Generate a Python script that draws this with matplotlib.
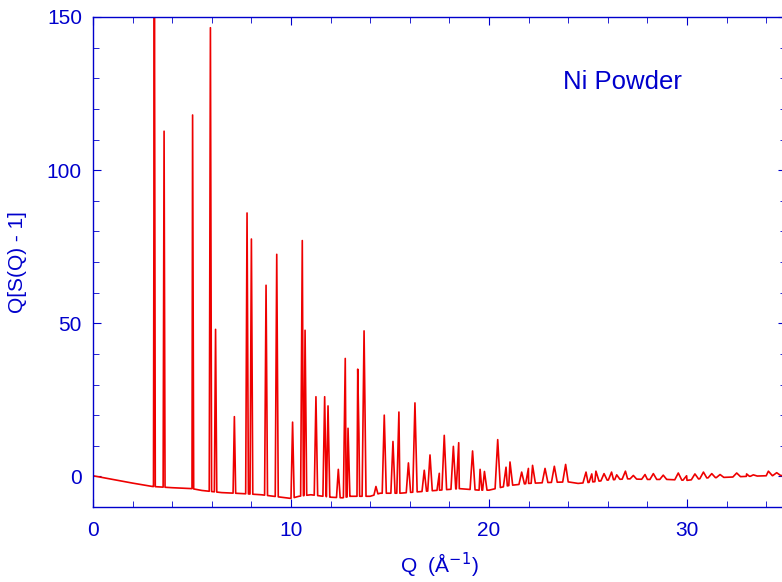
import numpy as np
import matplotlib
matplotlib.use("Agg")
import matplotlib.pyplot as plt

# Bragg peak positions (Q, 1/A) and heights
peak_q = [3.10, 3.59, 5.03, 5.93, 6.19, 7.14, 7.78, 8.00, 8.74, 9.28,
          10.08, 10.57, 10.71, 11.26, 11.70, 11.87, 12.39, 12.74, 12.88,
          13.37, 13.43, 13.69, 14.29, 14.71, 15.15, 15.45, 15.93, 16.26,
          16.73, 17.02, 17.49, 17.74, 18.20, 18.47, 19.17, 19.55, 19.77,
          20.44, 20.86, 21.06, 21.65, 21.99, 22.20, 22.83, 23.30, 23.87,
          24.90, 25.19, 25.40, 25.81, 26.19, 26.45, 26.89, 27.29, 27.88,
          28.30, 28.80, 29.56, 29.98, 30.40, 30.83, 31.25, 31.67, 32.51,
          33.01, 33.35, 34.11, 34.53]
peak_h = [175.0, 112.7, 118.0, 146.5, 48.0, 19.5, 86.0, 77.5, 62.4, 72.5,
          17.7, 77.0, 47.7, 26.0, 26.0, 23.0, 2.3, 38.5, 15.7,
          35.0, 14.0, 47.5, -3.3, 20.0, 11.4, 21.0, 4.4, 24.0,
          2.0, 7.0, 1.0, 13.4, 9.8, 11.0, 8.3, 2.3, 1.6,
          12.0, 3.0, 4.7, 1.4, 2.6, 3.6, 2.6, 3.3, 3.9,
          1.4, 0.8, 1.7, 0.9, 1.4, 0.5, 1.7, 0.3, 0.6,
          0.9, 0.4, 1.1, 0.2, 0.8, 1.4, 0.9, 0.6, 1.1,
          0.8, 0.5, 1.7, 1.2]

# background (valley) level
bg_q = [0, 1, 2, 3, 4, 5, 5.5, 6.5, 7.5, 8.5, 9.5, 10.0, 10.4, 11.0, 12.0,
        12.6, 13.0, 14.0, 14.5, 15.5, 16.5, 17.5, 18.5, 19.5, 20.0, 21, 22,
        23, 24, 24.5, 25, 26, 27, 28, 29, 30, 31, 32, 33, 34, 35]
bg_y = [0.2, -1.0, -2.2, -3.3, -3.7, -4.0, -4.6, -5.3, -5.6, -6.0, -6.8, -7.2,
        -6.5, -6.0, -6.8, -7.0, -6.5, -6.5, -5.5, -5.5, -5.0, -4.5, -4.0, -4.5,
        -4.5, -3.0, -2.3, -2.0, -1.8, -2.3, -2.0, -1.2, -0.8, -1.0, -1.0, -1.3,
        -0.5, -0.3, 0.0, 0.2, 0.3]

xticks = [0, 10, 20, 30]
yticks = [0, 50, 100, 150]

# build line vertices: background points plus a narrow spike at each peak
pts = list(zip(bg_q, bg_y))
for q, h in zip(peak_q, peak_h):
    hw = 0.03 + 0.005 * q
    for qq in (q - hw, q + hw):
        pts.append((qq, float(np.interp(qq, bg_q, bg_y))))
    pts.append((q, h))
pts.sort(key=lambda p: p[0])
x = [p[0] for p in pts]
y = [p[1] for p in pts]

blue = "#0000cc"
plt.rcParams['font.family'] = ['Liberation Sans', 'DejaVu Sans']

fig = plt.figure(figsize=(7.82, 5.82), dpi=100)
ax = fig.add_axes([93 / 782, 75 / 582, 693 / 782, 490 / 582])
ax.plot(x, y, color="#ee0000", lw=1.2)
ax.set_xlim(0, 35)
ax.set_ylim(-10, 150)
ax.set_xticks(xticks)
ax.set_yticks(yticks)
ax.set_xticks(np.arange(0, 36, 2), minor=True)
ax.set_yticks(np.arange(-10, 151, 10), minor=True)
ax.tick_params(which='both', direction='in', top=True, right=True, colors=blue,
               labelsize=15, labelcolor=blue)
ax.tick_params(axis='x', which='major', pad=10)
ax.tick_params(axis='y', which='major', pad=8)
ax.tick_params(which='major', length=6)
ax.tick_params(which='minor', length=4)
for s in ax.spines.values():
    s.set_color(blue)
    s.set_linewidth(1.0)
ax.set_xlabel("Q  (Å$^{-1}$)", color=blue, fontsize=15, labelpad=8)
ax.set_ylabel("Q[S(Q) - 1]", color=blue, fontsize=15, labelpad=14)
ax.text(0.678, 0.868, "Ni Powder", transform=ax.transAxes, color=blue,
        fontsize=18.5, ha='left', va='center')
fig.savefig("out.png", dpi=100)
